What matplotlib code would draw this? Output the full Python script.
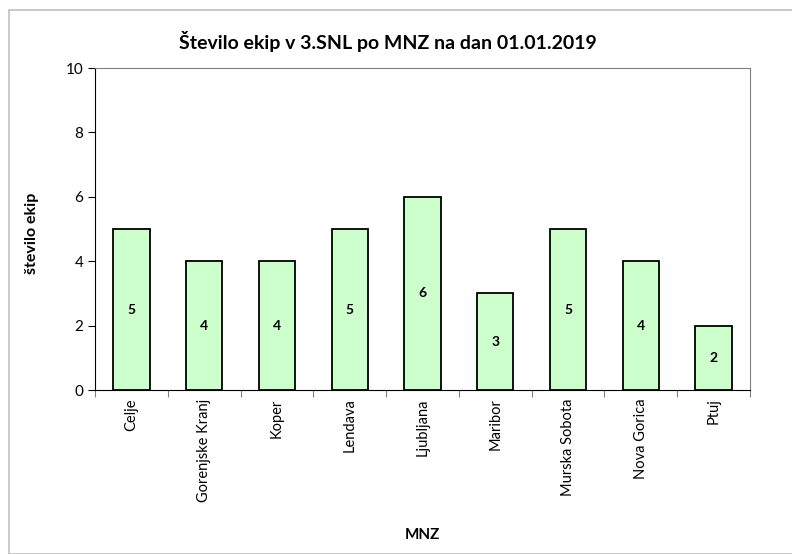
import matplotlib.pyplot as plt
import matplotlib.patches as patches
import numpy as np

plt.rcParams['font.family'] = ['Lato', 'DejaVu Sans']

# Data
mnz = ['Celje', 'Gorenjske Kranj', 'Koper', 'Lendava', 'Ljubljana',
       'Maribor', 'Murska Sobota', 'Nova Gorica', 'Ptuj']
ekipe = [5, 4, 4, 5, 6, 3, 5, 4, 2]

fig = plt.figure(figsize=(7.92, 5.54), dpi=100)
ax = fig.add_axes([95/792, 1-390/554, 655/792, 322/554])

x = np.arange(len(mnz))
bars = ax.bar(x, ekipe, width=0.5, color='#ccffcc', edgecolor='black', linewidth=1.3, zorder=3)

# value labels in the middle of each bar
for xi, v in zip(x, ekipe):
    ax.text(xi, v / 2, str(v), ha='center', va='center', fontsize=10, fontweight='bold')

ax.set_xlim(-0.5, len(mnz) - 0.5)
ax.set_ylim(0, 10)
ax.set_yticks([0, 2, 4, 6, 8, 10])
ax.tick_params(axis='y', labelsize=11, direction='out', length=5, width=0.8)

# x ticks between the categories, labels at the centres
ax.set_xticks(np.arange(len(mnz) + 1) - 0.5)
ax.set_xticklabels([])
ax.set_xticks(x, minor=True)
ax.set_xticklabels(mnz, minor=True, rotation=90, fontsize=10.5, va='top')
ax.tick_params(axis='x', which='minor', length=0, pad=6)
ax.tick_params(axis='x', which='major', direction='out', length=5, width=0.8, color='#808080')

for side in ['top', 'right']:
    ax.spines[side].set_color('#808080')
ax.spines['left'].set_color('black')
ax.spines['bottom'].set_color('black')

fig.text(32/792, 1-233/554, 'število ekip', ha='center', va='center', rotation=90,
         fontsize=11.5, fontweight='bold')
fig.text(422/792, 1-535/554, 'MNZ', ha='center', va='center', fontsize=11, fontweight='bold')
fig.text(388/792, 1-42/554, 'Število ekip v 3.SNL po MNZ na dan 01.01.2019',
         ha='center', va='center', fontsize=14, fontweight='bold')

# outer chart border
fig.patches.append(patches.Rectangle((9/792, 0), 1, 1-10/554, transform=fig.transFigure,
                                     fill=False, edgecolor='#c0c0c0', linewidth=1.2))

fig.savefig('out.png', dpi=100)
